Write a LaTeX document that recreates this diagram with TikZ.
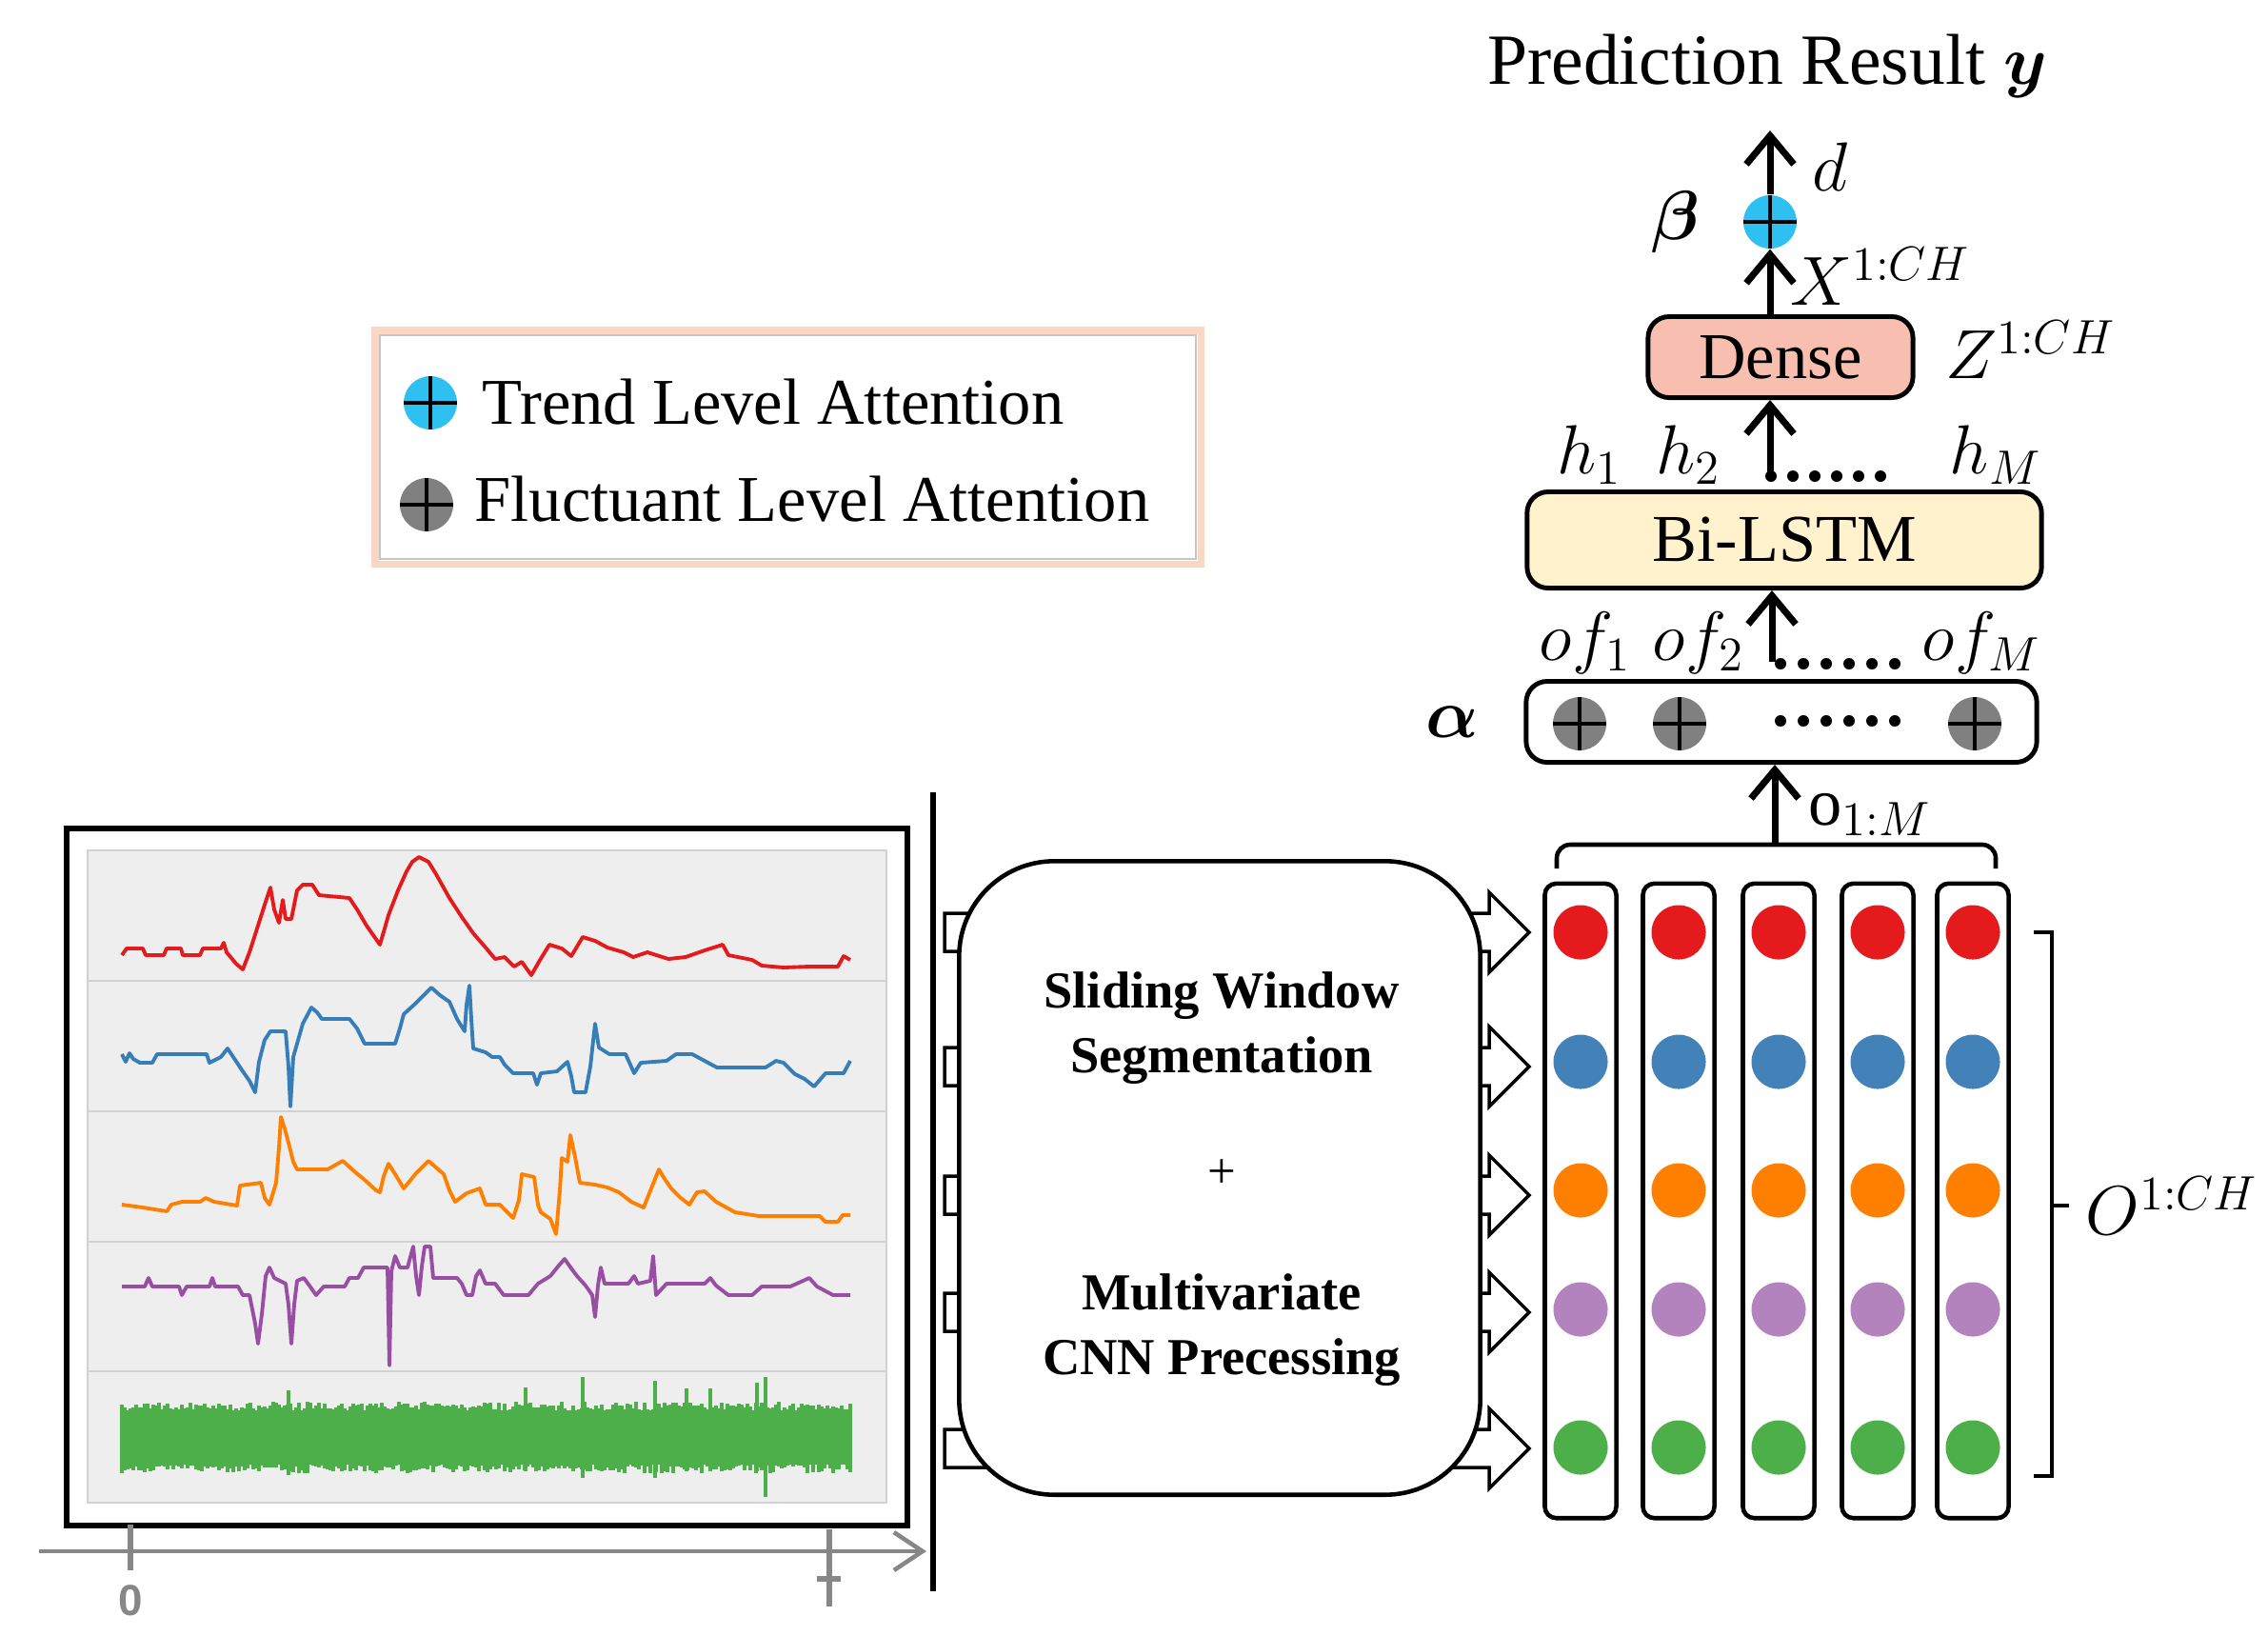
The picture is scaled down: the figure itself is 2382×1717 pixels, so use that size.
\documentclass[tikz,border=0pt]{standalone}
\usepackage{fontspec}
\setmainfont{Liberation Serif}
\newfontfamily\axisfont{Liberation Sans}
\usepackage{bm}
\usetikzlibrary{positioning}
\usetikzlibrary{arrows.meta}

\definecolor{densefill}{RGB}{248,191,176}
\definecolor{lstmfill}{RGB}{255,242,204}
\definecolor{trendblue}{RGB}{47,192,242}
\definecolor{flucgrey}{RGB}{128,128,128}
\definecolor{legendedge}{RGB}{250,214,196}
\definecolor{plotbg}{RGB}{238,238,238}
\definecolor{axisgrey}{RGB}{135,135,135}
\definecolor{sigred}{RGB}{228,26,28}
\definecolor{sigblue}{RGB}{55,126,184}
\definecolor{sigorange}{RGB}{255,127,0}
\definecolor{sigpurple}{RGB}{152,78,163}
\definecolor{siggreen}{RGB}{77,175,74}
\definecolor{dotblue}{RGB}{67,130,185}
\definecolor{dotpurple}{RGB}{178,131,188}

\tikzset{
  box/.style={draw, line width=1.4pt, rounded corners=0.22cm, inner sep=0pt},
  colbox/.style={draw, line width=1.3pt, rounded corners=0.12cm, minimum width=0.75cm, minimum height=6.66cm, inner sep=0pt},
  att/.style={circle, fill=#1, minimum size=0.56cm, inner sep=0pt,
    path picture={\draw[line width=1.4pt] (path picture bounding box.north) -- (path picture bounding box.south)
      (path picture bounding box.west) -- (path picture bounding box.east);}},
  feat/.style={circle, fill=#1, minimum size=0.57cm, inner sep=0pt},
  uparrow/.style={line width=2pt, -{Straight Barb[length=0.3cm, width=0.5cm]}},
  mlbl/.style={font=\fontsize{20}{24}\selectfont, inner sep=0pt},
  sig/.style={line width=1.1pt, line join=round},
}

\begin{document}
\begin{tikzpicture}[x=0.01cm, y=-0.01cm]
\useasboundingbox (0,0) rectangle (2382,1717);

% legend
\draw[legendedge, line width=2pt] (394,347) rectangle (1261,592);
\draw[gray!45, line width=0.4pt] (399,352) rectangle (1256,587);
\node[att=trendblue] (legTrend) at (452,423) {};
\node[att=flucgrey] (legFluc) at (448,530) {};
\node[font=\fontsize{19.5}{23}\selectfont, anchor=base west, inner sep=0pt] (legTrendTxt) at (506,445) {Trend Level Attention};
\node[font=\fontsize{19.5}{23}\selectfont, anchor=base west, inner sep=0pt] (legFlucTxt) at (498,547) {Fluctuant Level Attention};

% output part
\node[font=\fontsize{21.5}{26}\selectfont, anchor=base, inner sep=0pt] (title) at (1856,88) {Prediction Result $\bm{y}$};
\coordinate (ytip) at (1859,137);
\node[att=trendblue] (trend) at (1859,233) {};
\draw[uparrow] (trend.north) -- (ytip);
\node[mlbl] (dlbl) at (1922,175) {$d$};
\node[mlbl, left=0.44cm of trend] (beta) {$\bm{\beta}$};

\node[box, fill=densefill, minimum width=2.78cm, minimum height=0.85cm, font=\fontsize{19.5}{23}\selectfont] (dense) at (1870,375) {Dense};
\draw[uparrow] (dense.north -| trend) -- (trend.south);
\node[mlbl] (xlbl) at (1975,290) {$X^{1:CH}$};
\node[mlbl, right=0.31cm of dense, yshift=0.08cm] (zlbl) {$Z^{1:CH}$};

\node[mlbl] (h1) at (1669,478) {$h_1$};
\node[mlbl] (h2) at (1773,478) {$h_2$};
\node[mlbl] (hM) at (2096,478) {$h_M$};
\foreach \k in {0,...,5} \fill (1860+23*\k,500) circle (0.06cm);
\coordinate (hsrc) at (1859,498);
\draw[uparrow] (hsrc) -- (dense.south -| hsrc);

\node[box, fill=lstmfill, minimum width=5.40cm, minimum height=1.01cm, font=\fontsize{20}{24}\selectfont] (lstm) at (1874,567) {Bi-LSTM};

\node[mlbl] (of1) at (1665,675) {$of_1$};
\node[mlbl] (of2) at (1784,675) {$of_2$};
\node[mlbl] (ofM) at (2081,675) {$of_M$};
\foreach \k in {0,...,5} \fill (1870+24*\k,697) circle (0.06cm);
\coordinate (ofsrc) at (1861,695);
\draw[uparrow] (ofsrc) -- (lstm.south -| ofsrc);

\node[box, fill=white, minimum width=5.36cm, minimum height=0.85cm] (abox) at (1871,758) {};
\node[mlbl, left=0.47cm of abox] (alpha) {$\bm{\alpha}$};
\node[att=flucgrey] (a1) at (1659,760) {};
\node[att=flucgrey] (a2) at (1764,760) {};
\node[att=flucgrey] (aM) at (2074,760) {};
\foreach \k in {0,...,5} \fill (1870+24*\k,757) circle (0.06cm);

\coordinate (brtop) at (1864,887);
\draw[uparrow] (brtop) -- (abox.south -| brtop);
\node[mlbl, anchor=west] (olbl) at (1899,855) {$\mathrm{o}_{1:M}$};
\draw[line width=1.3pt, rounded corners=4pt] (1635,912) -- (1635,887) -- (2096,887) -- (2096,912);

% feature columns
\foreach \cx [count=\c] in {1660,1763,1868,1972,2072} {
  \node[colbox] (col\c) at (\cx,1261) {};
  \foreach \ry/\rc [count=\r] in {979/sigred,1115/dotblue,1250/sigorange,1375/dotpurple,1520/siggreen}
    \node[feat=\rc] (f\r-\c) at (\cx,\ry) {};
}
\draw[line width=1.3pt] (2136,979) -- (2155,979) -- (2155,1550) -- (2136,1550);
\coordinate (otick) at (2173,1266);
\draw[line width=1.3pt] (2155,1266) -- (otick);
\node[mlbl, right=0.17cm of otick] (Olbl) {$O^{1:CH}$};

% block arrows and segmentation box
\foreach \ry in {979,1120,1255,1378,1521}
  \draw[line width=1pt, fill=white] (992,\ry-20) -- (1564,\ry-20) -- (1564,\ry-42) -- (1606,\ry)
    -- (1564,\ry+42) -- (1564,\ry+20) -- (992,\ry+20) -- cycle;
\node[draw, fill=white, line width=1.3pt, rounded corners=1cm, minimum width=5.47cm, minimum height=6.65cm] (seg) at (1281,1237) {};
\node[font=\fontsize{15.5}{19.3}\selectfont\bfseries, align=center] (segtxt) at (1283,1080) {Sliding Window\\Segmentation};
\node[font=\fontsize{15}{18}\selectfont] (plus) at (1283,1233) {+};
\node[font=\fontsize{15.5}{19.3}\selectfont\bfseries, align=center] (cnntxt) at (1283,1397) {Multivariate\\CNN Precessing};

\draw[line width=1.6pt] (980,832) -- (980,1671);

% signal plot
\draw[line width=1.8pt, fill=white] (70,870) rectangle (953,1602);
\fill[plotbg] (92,893) rectangle (931,1578);
\draw[gray!35, line width=0.6pt] (92,893) rectangle (931,1578);
\foreach \py in {1030,1167,1304,1440}
  \draw[gray!35, line width=0.8pt] (92,\py) -- (931,\py);

\draw[sig, sigred] plot coordinates {(128,1003) (133,996) (150,996) (153,1003) (172,1003) (175,996) (190,996) (192,1003) (210,1003) (213,996) (232,996) (235,990) (238,1000) (248,1012) (255,1018) (262,1000) (270,975) (278,950) (284,932) (288,955) (293,969) (297,945) (300,965) (306,965) (312,935) (318,929) (328,929) (335,940) (367,943) (375,955) (385,972) (399,992) (404,975) (408,961) (418,935) (427,915) (433,905) (440,900) (450,905) (458,918) (472,943) (485,963) (497,980) (510,995) (520,1007) (530,1005) (540,1015) (548,1010) (558,1024) (566,1010) (577,992) (590,996) (600,1004) (612,984) (625,988) (638,995) (655,1000) (665,1005) (680,1000) (702,1007) (720,1005) (740,998) (759,992) (765,1003) (790,1008) (800,1014) (823,1016) (850,1015) (880,1015) (886,1004) (893,1008)};
\draw[sig, sigblue] plot coordinates {(128,1107) (132,1115) (136,1106) (140,1112) (147,1116) (160,1116) (165,1107) (217,1107) (220,1116) (232,1110) (239,1101) (245,1110) (255,1125) (262,1135) (268,1147) (272,1115) (278,1092) (284,1083) (300,1083) (303,1120) (305,1162) (308,1110) (312,1096) (318,1075) (327,1058) (333,1063) (338,1070) (367,1070) (375,1080) (383,1096) (415,1096) (420,1080) (424,1065) (435,1055) (445,1045) (453,1037) (462,1045) (472,1052) (480,1070) (488,1083) (490,1055) (493,1035) (495,1070) (497,1101) (510,1105) (517,1110) (525,1110) (530,1118) (539,1127) (560,1127) (564,1139) (568,1127) (585,1125) (596,1115) (600,1130) (603,1147) (615,1147) (620,1120) (625,1075) (629,1100) (640,1107) (657,1107) (662,1118) (666,1127) (673,1116) (700,1114) (710,1107) (727,1107) (740,1114) (753,1121) (804,1121) (815,1114) (823,1116) (835,1128) (845,1133) (855,1141) (867,1127) (886,1127) (893,1114)};
\draw[sig, sigorange] plot coordinates {(128,1265) (150,1268) (175,1272) (180,1265) (191,1262) (210,1262) (216,1258) (225,1262) (249,1266) (252,1245) (274,1242) (278,1258) (283,1265) (290,1242) (293,1205) (295,1173) (299,1185) (303,1200) (308,1220) (312,1228) (344,1228) (360,1219) (372,1230) (383,1239) (395,1250) (399,1252) (403,1235) (408,1222) (415,1233) (424,1248) (437,1232) (450,1219) (458,1226) (466,1233) (472,1250) (478,1262) (490,1253) (504,1248) (510,1265) (525,1265) (539,1279) (545,1260) (548,1233) (561,1236) (565,1265) (568,1273) (578,1280) (584,1296) (588,1250) (590,1216) (596,1220) (599,1192) (604,1215) (609,1242) (625,1244) (638,1247) (650,1252) (663,1262) (676,1268) (684,1248) (692,1228) (698,1238) (705,1248) (715,1258) (724,1265) (732,1252) (740,1251) (752,1262) (772,1273) (797,1277) (861,1277) (867,1283) (880,1283) (885,1276) (893,1276)};
\draw[sig, sigpurple] plot coordinates {(128,1351) (152,1351) (156,1342) (160,1351) (188,1351) (191,1360) (196,1351) (220,1351) (223,1342) (226,1351) (250,1351) (255,1360) (262,1360) (268,1390) (271,1411) (275,1380) (279,1340) (283,1331) (288,1342) (300,1348) (303,1370) (306,1411) (309,1370) (312,1345) (319,1342) (325,1350) (332,1360) (340,1351) (362,1351) (367,1342) (376,1342) (382,1331) (407,1331) (409,1434) (411,1335) (415,1319) (420,1331) (428,1331) (434,1309) (437,1340) (440,1360) (443,1330) (446,1309) (452,1309) (455,1342) (480,1342) (485,1348) (490,1360) (496,1360) (500,1340) (504,1334) (510,1348) (520,1348) (529,1360) (555,1360) (565,1348) (578,1340) (586,1330) (593,1322) (600,1332) (606,1340) (615,1350) (622,1360) (625,1383) (628,1350) (631,1331) (635,1348) (660,1348) (666,1340) (670,1348) (683,1345) (686,1319) (689,1360) (700,1348) (740,1348) (746,1342) (752,1350) (765,1360) (790,1360) (800,1351) (830,1351) (850,1342) (858,1351) (875,1360) (893,1360)};
% noisy channel
\fill[siggreen] (128,1481) rectangle (893,1538);
\pgfmathsetseed{11}
\foreach \k in {0,...,255} {
  \pgfmathsetmacro{\gtop}{1481-9*rnd}
  \pgfmathsetmacro{\gbot}{1538+9*rnd}
  \draw[siggreen, line width=0.9pt] (128+3*\k,\gtop) -- (128+3*\k,\gbot);
}
\foreach \gx/\gt/\gb in {303/1460/1549, 552/1457/1545, 612/1446/1552, 688/1450/1552, 721/1458/1545, 746/1458/1545, 804/1446/1572, 795/1452/1545}
  \draw[siggreen, line width=0.9pt] (\gx,\gt) -- (\gx,\gb);

% time axis
\draw[axisgrey, line width=1.3pt, -{Straight Barb[length=0.3cm, width=0.4cm]}] (41,1629) -- (973,1629);
\draw[axisgrey, line width=1.6pt] (137,1601) -- (137,1649) (871,1606) -- (871,1687) (858,1658) -- (883,1658);
\node[axisgrey, font=\axisfont\bfseries\fontsize{13}{15}\selectfont, inner sep=0pt] (zero) at (137,1681) {0};
\end{tikzpicture}
\end{document}
